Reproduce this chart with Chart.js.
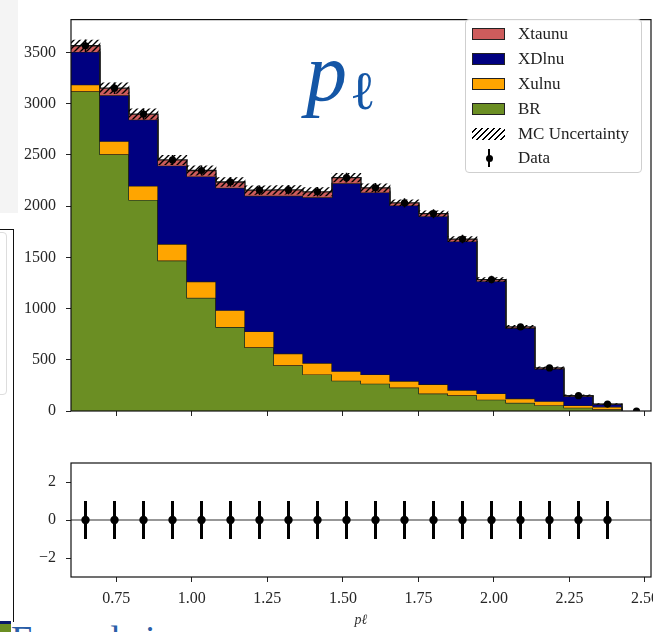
<!DOCTYPE html>
<html>
<head>
<meta charset="utf-8">
<script src="https://cdn.jsdelivr.net/npm/chart.js@4.4.0/dist/chart.umd.min.js"></script>
<style>
html,body{margin:0;padding:0;background:#fff;width:653px;height:632px;overflow:hidden;position:relative;font-family:"Liberation Serif",serif;}
canvas{position:absolute;left:0;}
#main{top:0;}
#ratio{top:440px;}
#greyPanel{position:absolute;left:0;top:0;width:18px;height:213px;background:#f4f4f4;}
#leftBox{position:absolute;left:-2px;top:229px;width:14.5px;height:392px;border-top:1.5px solid #111;border-right:1.5px solid #111;}
#leftInner{position:absolute;left:-30px;top:232px;width:35px;height:161px;border:1px solid #ddd;border-radius:4px;}
#cornerImg{position:absolute;left:0;top:621px;width:11px;height:11px;background:linear-gradient(#0a1a6a 0 3px,#6b8e23 3px 100%);}
#bottomText{position:absolute;left:11px;top:620px;font-family:"Liberation Serif",serif;font-size:38px;line-height:1;color:#2a5ea8;white-space:nowrap;}
#bigP{position:absolute;left:306px;top:32px;font-family:"Liberation Serif",serif;font-style:italic;font-size:82px;line-height:1;color:#1456a6;}
#bigL{position:absolute;left:350px;top:64px;font-family:"DejaVu Serif",serif;font-size:54px;line-height:1;color:#1456a6;}
#legend{position:absolute;left:465px;top:19px;width:177px;height:154px;border:1px solid #cfcfcf;border-radius:4px;background:rgba(255,255,255,0.85);box-sizing:border-box;}
#legend .row{position:absolute;left:0;height:20px;width:100%;}
#legend .patch{position:absolute;left:6px;top:4px;width:33px;height:12px;box-sizing:border-box;border:1px solid #222;}
#legend .hatch{position:absolute;left:6px;top:4px;width:33px;height:12px;background-image:repeating-linear-gradient(135deg,transparent 0 2.4px,#000 2.4px 4.2px);}
#legend .lab{position:absolute;left:52px;top:0;line-height:20px;font-size:17px;color:#222;white-space:nowrap;}
#legend .ebar{position:absolute;left:22px;top:1px;width:2px;height:18px;background:#000;}
#legend .edot{position:absolute;left:19.5px;top:6.5px;width:7px;height:7px;border-radius:50%;background:#000;}
</style>
</head>
<body>
<div id="greyPanel"></div>
<div id="leftInner"></div>
<div id="leftBox"></div>
<div id="cornerImg"></div>
<div id="bottomText">Formal sin</div>
<canvas id="main" width="680" height="440"></canvas>
<canvas id="ratio" width="680" height="192"></canvas>
<div id="bigP">p</div>
<div id="bigL">ℓ</div>
<div id="legend"></div>
<script>
// ---------------- data ----------------
const binEdges = [0.600,0.696,0.792,0.888,0.984,1.080,1.176,1.272,1.368,1.464,1.560,1.656,1.752,1.848,1.944,2.040,2.136,2.232,2.328,2.424,2.520];
const binCenters = [0.648,0.744,0.840,0.936,1.032,1.128,1.224,1.320,1.416,1.512,1.608,1.704,1.800,1.896,1.992,2.088,2.184,2.280,2.376,2.472];
const seriesNames = ['Xtaunu','XDlnu','Xulnu','BR'];
const brCounts     = [3120,2505,2060,1468,1105, 819, 621, 446, 357, 296, 267, 229, 170, 153, 111,  80,  57,  32,  16];
const xulnuCounts  = [  65, 128, 137, 162, 159, 165, 156, 114, 111,  93,  90,  64,  91,  51,  61,  41,  39,  22,  25];
const xdlnuCounts  = [ 320, 448, 646, 764,1025,1194,1324,1541,1617,1833,1776,1713,1640,1451,1095, 688, 316,  90,  24];
const xtaunuCounts = [  60,  70,  55,  56,  58,  57,  54,  57,  54,  55,  45,  26,  25,  23,  16,  12,   8,   6,   3];
const mcUncertainty= [  56,  52,  50,  46,  45,  43,  42,  42,  41,  42,  40,  30,  28,  25,  20,  15,  11,   7,   5];
const dataCounts   = [3565,3151,2898,2450,2347,2235,2155,2158,2139,2277,2178,2032,1926,1678,1283, 821, 420, 150,  68,   0];
const dataErrors   = [  60,  56,  54,  49,  48,  47,  46,  46,  46,  48,  47,  45,  44,  41,  36,  29,  20,  12,   8,   0];
const pullValues   = [0,0,0,0,0,0,0,0,0,0,0,0,0,0,0,0,0,0,0];
const pullErrors   = [1,1,1,1,1,1,1,1,1,1,1,1,1,1,1,1,1,1,1];
const xTickValues  = [0.75,1.00,1.25,1.50,1.75,2.00,2.25,2.50];
const yTickValues  = [0,500,1000,1500,2000,2500,3000,3500];
const pullTickValues = [-2,0,2];
const xTitle = 'pℓ';

// ---------------- styles ----------------
const colors = {Xtaunu:'#cd5c5c', XDlnu:'#000080', Xulnu:'#ffa500', BR:'#6b8e23'};
const edgeColor = '#1a1a1a';
const tickFont = {family:'Liberation Serif', size:16};
const tickColor = '#262626';

Chart.defaults.font.family = 'Liberation Serif';

// cumulative stacking (BR bottom, then Xulnu, XDlnu, Xtaunu)
const layerOrder = [['BR',brCounts],['Xulnu',xulnuCounts],['XDlnu',xdlnuCounts],['Xtaunu',xtaunuCounts]];
const cumulative = [];
let running = brCounts.map(() => 0);
layerOrder.forEach(([name, vals]) => { running = running.map((v,i) => v + vals[i]); cumulative.push(running.slice()); });
const totalMC = cumulative[cumulative.length-1];

function stepPoints(vals){
  const pts = vals.map((v,i) => ({x: binEdges[i], y: v}));
  pts.push({x: binEdges[vals.length], y: 0});
  return pts;
}

function makeHatch(){
  const c = document.createElement('canvas'); c.width = 6; c.height = 6;
  const g = c.getContext('2d');
  g.strokeStyle = '#000'; g.lineWidth = 1.4; g.lineCap = 'square';
  g.beginPath();
  g.moveTo(0,6); g.lineTo(6,0);
  g.moveTo(-3,3); g.lineTo(3,-3);
  g.moveTo(3,9); g.lineTo(9,3);
  g.stroke();
  return g.createPattern(c, 'repeat');
}

const framePlugin = {
  id: 'frame',
  afterDraw(chart){
    const {ctx, chartArea: a} = chart;
    ctx.save(); ctx.strokeStyle = '#111'; ctx.lineWidth = 1.2;
    ctx.strokeRect(a.left, a.top, a.right - a.left, a.bottom - a.top);
    ctx.restore();
  }
};
const errorBarPlugin = {
  id: 'errbars',
  beforeDatasetDraw(chart, args){
    const ds = chart.data.datasets[args.index];
    if (!ds.errorBars) return;
    const meta = args.meta; const ys = chart.scales[meta.yAxisID];
    const {ctx, chartArea: a} = chart;
    ctx.save();
    ctx.beginPath(); ctx.rect(a.left, a.top, a.right - a.left, a.bottom - a.top); ctx.clip();
    ctx.strokeStyle = '#000'; ctx.lineWidth = ds.errorBarWidth || 1.5;
    ds.data.forEach((p, i) => {
      const e = ds.errorBars[i]; if (!e) return;
      const x = meta.data[i].x;
      ctx.beginPath();
      ctx.moveTo(x, ys.getPixelForValue(p.y - e));
      ctx.lineTo(x, ys.getPixelForValue(p.y + e));
      ctx.stroke();
    });
    ctx.restore();
  }
};

function xScale(showLabels, withTitle, height){
  return {
    type:'linear', min: binEdges[0], max: binEdges[binEdges.length-1], offset:false,
    afterBuildTicks(s){ s.ticks = xTickValues.map(v => ({value:v})); },
    afterFit(s){ s.height = height; },
    ticks:{display: showLabels, autoSkip:false, maxRotation:0, padding:7, font: tickFont, color: tickColor,
      callback: v => Number(v).toFixed(2)},
    grid:{display:true, drawOnChartArea:false, drawTicks:true, tickLength:5, tickWidth:1, tickColor:'#222', offset:false},
    border:{display:false},
    title: withTitle ? {display:true, text: xTitle, font:{family:'Liberation Serif', size:14, style:'italic'}, color:'#333', padding:{top:0,bottom:3}} : {display:false}
  };
}

// ---------------- main chart ----------------
const hatch = makeHatch();
const mainDatasets = [];
layerOrder.forEach(([name], k) => {
  mainDatasets.push({
    type:'line', label:name, data: stepPoints(cumulative[k]), stepped:'before',
    borderColor: edgeColor, borderWidth:1.3, backgroundColor: colors[name],
    fill: k === 0 ? 'origin' : '-1', pointRadius:0, order: 10 - k
  });
});
mainDatasets.push({
  type:'bar', label:'MC Uncertainty',
  data: totalMC.map((t,i) => ({x: binCenters[i], y:[t - mcUncertainty[i], t + mcUncertainty[i]]})),
  backgroundColor: hatch, borderWidth:0, barPercentage:1, categoryPercentage:1, order:1
});
mainDatasets.push({
  type:'scatter', label:'Data',
  data: dataCounts.map((v,i) => ({x: binCenters[i], y: v})),
  errorBars: dataErrors, errorBarWidth:1.5,
  pointRadius:3.6, pointBackgroundColor:'#000', pointBorderWidth:0, showLine:false, order:0, clip:0
});

new Chart(document.getElementById('main'), {
  type:'line',
  data:{datasets: mainDatasets},
  options:{
    responsive:false, animation:false, events:[],
    layout:{padding:{left:0, top:10, right:29, bottom:0}},
    plugins:{legend:{display:false}, tooltip:{enabled:false}},
    scales:{
      x: xScale(false, false, 29),
      y:{type:'linear', min:0, max:3820,
        afterBuildTicks(s){ s.ticks = yTickValues.map(v => ({value:v})); },
        afterFit(s){ s.width = 71; },
        ticks:{padding:10, font: tickFont, color: tickColor, callback: v => String(v)},
        grid:{display:true, drawOnChartArea:false, drawTicks:true, tickLength:5, tickWidth:1, tickColor:'#222'},
        border:{display:false}}
    }
  },
  plugins:[errorBarPlugin, framePlugin]
});

// ---------------- ratio / pull chart ----------------
const pullCenters = binCenters.slice(0, pullValues.length);
new Chart(document.getElementById('ratio'), {
  type:'line',
  data:{datasets:[
    {type:'scatter', label:'pull', data: pullValues.map((v,i) => ({x: pullCenters[i], y: v})),
     errorBars: pullErrors, errorBarWidth:3, pointRadius:4.2, pointBackgroundColor:'#000', pointBorderWidth:0, showLine:false, order:0},
    {type:'line', label:'zero', data:[{x: binEdges[0], y:0},{x: binEdges[binEdges.length-1], y:0}],
     borderColor:'rgba(140,140,140,0.9)', borderWidth:2.2, pointRadius:0, fill:false, order:2}
  ]},
  options:{
    responsive:false, animation:false, events:[],
    layout:{padding:{left:0, top:23, right:29, bottom:0}},
    plugins:{legend:{display:false}, tooltip:{enabled:false}},
    scales:{
      x: xScale(true, true, 55),
      y:{type:'linear', min:-3, max:3,
        afterBuildTicks(s){ s.ticks = pullTickValues.map(v => ({value:v})); },
        afterFit(s){ s.width = 71; },
        ticks:{padding:10, font: tickFont, color: tickColor, callback: v => (v < 0 ? '\u2212' + Math.abs(v) : String(v))},
        grid:{display:true, drawOnChartArea:false, drawTicks:true, tickLength:5, tickWidth:1, tickColor:'#222'},
        border:{display:false}}
    }
  },
  plugins:[errorBarPlugin, framePlugin]
});

// ---------------- legend (HTML) ----------------
const legendRows = [
  {label: seriesNames[0], kind:'patch', color: colors.Xtaunu},
  {label: seriesNames[1], kind:'patch', color: colors.XDlnu},
  {label: seriesNames[2], kind:'patch', color: colors.Xulnu},
  {label: seriesNames[3], kind:'patch', color: colors.BR},
  {label: 'MC Uncertainty', kind:'hatch'},
  {label: 'Data', kind:'data'}
];
const legendRowTops = [4, 29, 54, 79, 104, 128];
const legend = document.getElementById('legend');
legendRows.forEach((r, i) => {
  const row = document.createElement('div'); row.className = 'row'; row.style.top = legendRowTops[i] + 'px';
  if (r.kind === 'patch') { const p = document.createElement('span'); p.className = 'patch'; p.style.background = r.color; row.appendChild(p); }
  else if (r.kind === 'hatch') { const p = document.createElement('span'); p.className = 'hatch'; row.appendChild(p); }
  else { const b = document.createElement('span'); b.className = 'ebar'; row.appendChild(b); const d = document.createElement('span'); d.className = 'edot'; row.appendChild(d); }
  const t = document.createElement('span'); t.className = 'lab'; t.textContent = r.label; row.appendChild(t);
  legend.appendChild(row);
});
</script>
</body>
</html>
